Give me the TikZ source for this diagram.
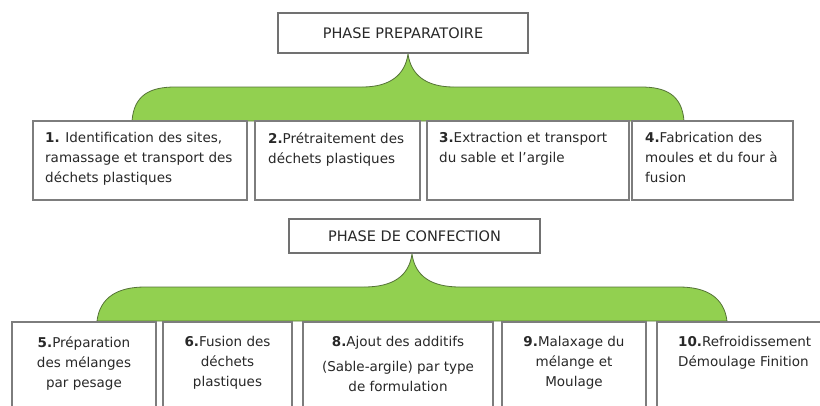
\documentclass[tikz,border=0pt]{standalone}
\usepackage{fontspec}
\setmainfont{DejaVu Sans}
\definecolor{brgreen}{RGB}{146,208,80}
\definecolor{broutline}{RGB}{85,115,55}
\definecolor{boxgray}{RGB}{125,125,125}
\definecolor{txt}{RGB}{40,40,40}
\begin{document}
\begin{tikzpicture}[x=1pt,y=-1pt,
  box/.style={draw=boxgray, line width=1.4pt, fill=white, inner sep=0pt, outer sep=0pt, anchor=north west},
  titlebox/.style={draw=boxgray!90!black, line width=1.2pt, fill=white, inner sep=0pt, outer sep=0pt,
    font=\fontsize{14.5}{18}\selectfont, text=txt},
  txtL/.style={anchor=north west, inner sep=0pt, align=left, font=\fontsize{13.5}{20}\selectfont, text=txt},
  txtC/.style={anchor=north, inner sep=0pt, align=center, font=\fontsize{13.5}{20}\selectfont, text=txt},
  brace/.style={fill=brgreen, draw=broutline, line width=0.8pt}]
\useasboundingbox (0,0) rectangle (820,405);
\clip (0,0) rectangle (820,405);
\fill[white] (0,0) rectangle (820,405);

% braces
\draw[brace] (132,121) .. controls (134,95) and (150,87) .. (175,87) -- (362,87)
  .. controls (390,87) and (405,75) .. (408,54) .. controls (411,75) and (426,87) .. (454,87)
  -- (641,87) .. controls (666,87) and (682,95) .. (684,121) -- cycle;
\draw[brace] (97,321) .. controls (100,297) and (118,287) .. (145,287) -- (364,287)
  .. controls (393,287) and (409,276) .. (412,254) .. controls (415,276) and (431,287) .. (460,287)
  -- (679,287) .. controls (706,287) and (724,297) .. (727,321) -- cycle;

% title boxes
\node[titlebox, minimum width=250pt, minimum height=40pt] (pp) at (403,33) {PHASE PREPARATOIRE};
\node[titlebox, minimum width=251pt, minimum height=34pt] (pc) at (414.5,236) {PHASE DE CONFECTION};

% row 1
\node[box, minimum width=214pt, minimum height=79pt] (b1) at (33,121) {};
\node[box, minimum width=165pt, minimum height=79pt] (b2) at (255,121) {};
\node[box, minimum width=202pt, minimum height=79pt] (b3) at (427,121) {};
\node[box, minimum width=161pt, minimum height=79pt] (b4) at (632,121) {};
\node[txtL] (t1) at (45,132) {\textbf{1.} Identification des sites,\\ramassage et transport des\\déchets plastiques};
\node[txtL] (t2) at (268,132) {\textbf{2.}Prétraitement des\\déchets plastiques};
\node[txtL] (t3) at (439,132) {\textbf{3.}Extraction et transport\\du sable et l’argile};
\node[txtL] (t4) at (645,132) {\textbf{4.}Fabrication des\\moules et du four à\\fusion};

% row 2
\node[box, minimum width=144pt, minimum height=120pt] (b5) at (12,322) {};
\node[box, minimum width=129pt, minimum height=120pt] (b6) at (163,322) {};
\node[box, minimum width=190pt, minimum height=120pt] (b8) at (303,322) {};
\node[box, minimum width=144pt, minimum height=120pt] (b9) at (502,322) {};
\node[box, minimum width=200pt, minimum height=120pt] (b10) at (657,322) {};
\node[txtC] (t5) at (84,336) {\textbf{5.}Préparation\\des mélanges\\par pesage};
\node[txtC] (t6) at (227.5,336) {\textbf{6.}Fusion des\\déchets\\plastiques};
\node[txtC] (t8) at (398,336) {\textbf{8.}Ajout des additifs\\[5pt](Sable-argile) par type\\de formulation};
\node[txtC] (t9) at (574,336) {\textbf{9.}Malaxage du\\mélange et\\Moulage};
\node[txtL] (t10) at (678,336) {\textbf{10.}Refroidissement\\Démoulage Finition};
\end{tikzpicture}
\end{document}
